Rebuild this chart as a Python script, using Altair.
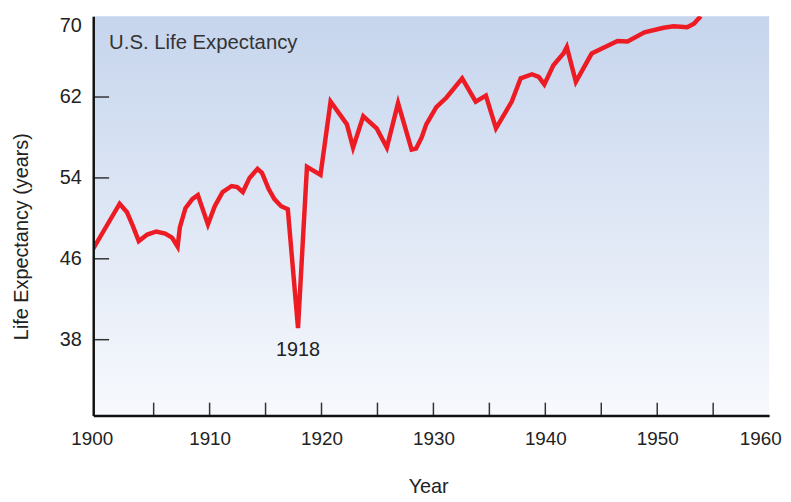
import altair as alt
import pandas as pd

# ---- data ----
years = [1899.6, 1901.96, 1902.62, 1903.12, 1903.67, 1904.43, 1905.23, 1906.03, 1906.64, 1907.14,
         1907.34, 1907.84, 1908.45, 1908.95, 1909.85, 1910.46, 1911.16, 1911.97, 1912.47, 1912.97,
         1913.57, 1914.28, 1914.68, 1915.28, 1915.79, 1916.39, 1916.99, 1917.90, 1918.70, 1919.91,
         1920.81, 1922.27, 1922.82, 1923.73, 1924.93, 1925.84, 1926.84, 1928.05, 1928.45, 1928.95,
         1929.36, 1930.26, 1931.17, 1932.57, 1933.78, 1934.69, 1935.59, 1937.00, 1937.80, 1938.81,
         1939.41, 1939.91, 1940.72, 1941.62, 1941.92, 1942.73, 1944.14, 1945.34, 1946.45, 1947.35,
         1948.86, 1950.57, 1951.47, 1952.68, 1953.28, 1953.89]
life = [47.0, 51.45, 50.6, 49.3, 47.75, 48.4, 48.7, 48.5, 48.1, 47.2,
        49.1, 51.0, 51.9, 52.3, 49.4, 51.2, 52.6, 53.2, 53.1, 52.6,
        54.0, 54.9, 54.5, 52.9, 51.9, 51.2, 50.9, 39.15, 55.1, 54.3,
        61.55, 59.3, 57.0, 60.1, 58.9, 57.0, 61.4, 56.8, 56.9, 58.0,
        59.3, 61.0, 61.95, 63.85, 61.55, 62.15, 58.9, 61.55, 63.85, 64.25,
        64.0, 63.25, 65.15, 66.3, 66.95, 63.5, 66.3, 66.95, 67.55, 67.5,
        68.4, 68.85, 69.0, 68.9, 69.25, 70.0]

x_label_values = [1900, 1910, 1920, 1930, 1940, 1950, 1960]
x_tick_values = [1905, 1910, 1915, 1920, 1925, 1930, 1935, 1940, 1945, 1950, 1955]
y_label_values = [38, 46, 54, 62, 70]
y_tick_values = [38, 46, 54, 62]

note_year = [1917.9]
note_value = [37.0]
note_text = ["1918"]
chart_title = ["U.S. Life Expectancy"]

W, H = 682, 403
FONT = "Liberation Sans"
TXT = "#222222"

df = pd.DataFrame({"year": years, "life": life})
note_df = pd.DataFrame({"year": note_year, "life": note_value, "label": note_text})
title_df = pd.DataFrame({"t": chart_title})
xt_df = pd.DataFrame({"year": x_tick_values})
yt_df = pd.DataFrame({"life": y_tick_values})

xs = alt.Scale(domain=[1899.6, 1960], nice=False, zero=False)
ys = alt.Scale(domain=[30.5, 70], nice=False, zero=False)

x_axis = alt.Axis(
    values=x_label_values, format="d", title="Year", ticks=False, grid=False,
    domainColor="#111111", domainWidth=2.5, labelFlush=False,
    labelFont=FONT, labelFontSize=19, labelColor=TXT, labelPadding=14,
    labelOffset={"condition": [{"test": "datum.value == 1960", "value": -9},
                               {"test": "datum.value == 1900", "value": -6}],
                 "value": 0},
    titleFont=FONT, titleFontSize=20, titleFontWeight="normal", titleColor=TXT,
    titleX=338, titleY=78, titleAlign="center", titleBaseline="alphabetic",
    zindex=1,
)
y_axis = alt.Axis(
    values=y_label_values, title="Life Expectancy (years)", ticks=False, grid=False,
    domainColor="#111111", domainWidth=2.5, labelFlush=True,
    labelFont=FONT, labelFontSize=20, labelColor=TXT, labelPadding=12,
    titleFont=FONT, titleFontSize=20, titleFontWeight="normal", titleColor=TXT,
    titleX=-72, titleY=222, titleAlign="center", titleBaseline="middle",
    zindex=1,
)

bg = alt.Chart(title_df).mark_rect(
    color=alt.Gradient(
        gradient="linear",
        stops=[alt.GradientStop(color="#c6d5ed", offset=0),
               alt.GradientStop(color="#f7f9fd", offset=1)],
        x1=0, x2=0, y1=0, y2=1,
    )
).encode(x=alt.value(0), x2=alt.value(W), y=alt.value(0), y2=alt.value(H))

xticks = alt.Chart(xt_df).mark_rule(color="#333333", strokeWidth=1.5).encode(
    x=alt.X("year:Q", scale=xs, axis=x_axis),
    y=alt.value(H - 13), y2=alt.value(H),
)
yticks = alt.Chart(yt_df).mark_rule(color="#333333", strokeWidth=1.5).encode(
    y=alt.Y("life:Q", scale=ys, axis=y_axis),
    x=alt.value(0), x2=alt.value(16),
)

line = alt.Chart(df).mark_line(color="#ed1c24", strokeWidth=4.5, clip=True).encode(
    x=alt.X("year:Q", scale=xs, axis=x_axis),
    y=alt.Y("life:Q", scale=ys, axis=y_axis),
)

note = alt.Chart(note_df).mark_text(
    font=FONT, fontSize=20, color=TXT, align="center", baseline="middle"
).encode(
    x=alt.X("year:Q", scale=xs, axis=x_axis),
    y=alt.Y("life:Q", scale=ys, axis=y_axis),
    text="label:N",
)

title_txt = alt.Chart(title_df).mark_text(
    font=FONT, fontSize=20.5, color="#333333", align="left", baseline="middle"
).encode(x=alt.value(16), y=alt.value(27), text="t:N")

chart = alt.layer(bg, xticks, yticks, line, note, title_txt).properties(
    width=W, height=H,
    autosize=alt.AutoSizeParams(type="none"),
    padding={"left": 86, "top": 6, "right": 14, "bottom": 80},
).configure_view(stroke=None)

chart.save("out.html", embed_options={"renderer": "svg", "actions": False})
